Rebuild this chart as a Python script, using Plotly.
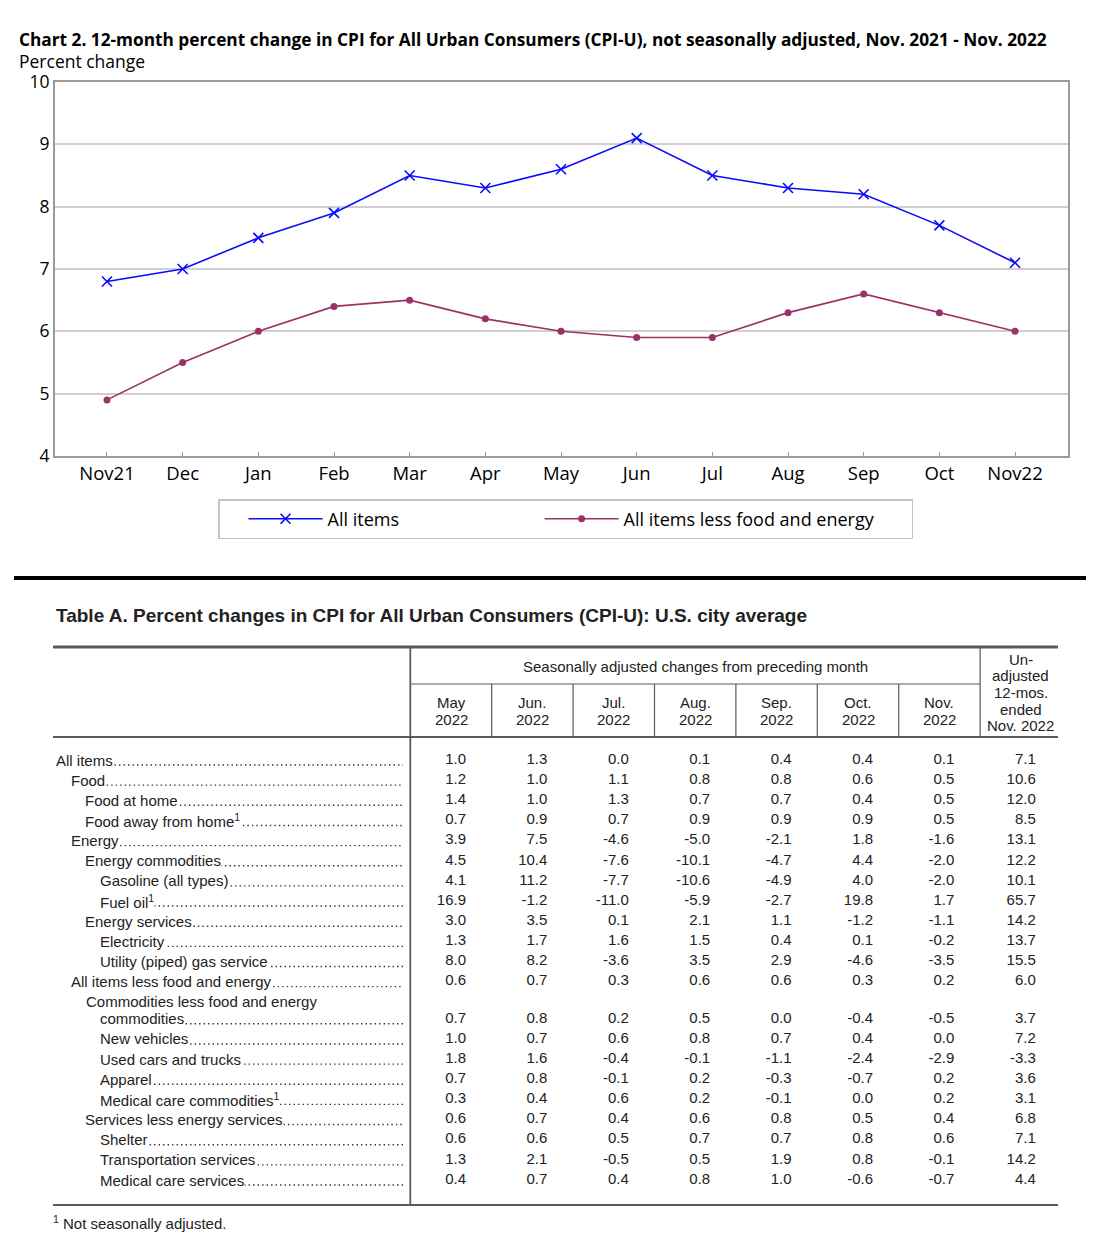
import plotly.graph_objects as go

# ---------------- Chart data ----------------
months = ["Nov21", "Dec", "Jan", "Feb", "Mar", "Apr", "May", "Jun", "Jul", "Aug", "Sep", "Oct", "Nov22"]
all_items = [6.8, 7.0, 7.5, 7.9, 8.5, 8.3, 8.6, 9.1, 8.5, 8.3, 8.2, 7.7, 7.1]
core_items = [4.9, 5.5, 6.0, 6.4, 6.5, 6.2, 6.0, 5.9, 5.9, 6.3, 6.6, 6.3, 6.0]
y_ticks = [4, 5, 6, 7, 8, 9, 10]

# ---------------- Table data ----------------
row_labels = [
    "All items", "Food", "Food at home", "Food away from home<sup>1</sup>", "Energy",
    "Energy commodities", "Gasoline (all types)", "Fuel oil<sup>1</sup>", "Energy services",
    "Electricity", "Utility (piped) gas service", "All items less food and energy",
    "Commodities less food and energy\ncommodities", "New vehicles", "Used cars and trucks",
    "Apparel", "Medical care commodities<sup>1</sup>", "Services less energy services",
    "Shelter", "Transportation services", "Medical care services",
]
row_indent = [0, 1, 2, 2, 1, 2, 3, 3, 2, 3, 3, 1, 2, 3, 3, 3, 3, 2, 3, 3, 3]

col_headers = [["May", "2022"], ["Jun.", "2022"], ["Jul.", "2022"], ["Aug.", "2022"], ["Sep.", "2022"],
               ["Oct.", "2022"], ["Nov.", "2022"], ["Un-", "adjusted", "12-mos.", "ended", "Nov. 2022"]]
group_header = "Seasonally adjusted changes from preceding month"

may_2022 = [1.0, 1.2, 1.4, 0.7, 3.9, 4.5, 4.1, 16.9, 3.0, 1.3, 8.0, 0.6, 0.7, 1.0, 1.8, 0.7, 0.3, 0.6, 0.6, 1.3, 0.4]
jun_2022 = [1.3, 1.0, 1.0, 0.9, 7.5, 10.4, 11.2, -1.2, 3.5, 1.7, 8.2, 0.7, 0.8, 0.7, 1.6, 0.8, 0.4, 0.7, 0.6, 2.1, 0.7]
jul_2022 = [0.0, 1.1, 1.3, 0.7, -4.6, -7.6, -7.7, -11.0, 0.1, 1.6, -3.6, 0.3, 0.2, 0.6, -0.4, -0.1, 0.6, 0.4, 0.5, -0.5, 0.4]
aug_2022 = [0.1, 0.8, 0.7, 0.9, -5.0, -10.1, -10.6, -5.9, 2.1, 1.5, 3.5, 0.6, 0.5, 0.8, -0.1, 0.2, 0.2, 0.6, 0.7, 0.5, 0.8]
sep_2022 = [0.4, 0.8, 0.7, 0.9, -2.1, -4.7, -4.9, -2.7, 1.1, 0.4, 2.9, 0.6, 0.0, 0.7, -1.1, -0.3, -0.1, 0.8, 0.7, 1.9, 1.0]
oct_2022 = [0.4, 0.6, 0.4, 0.9, 1.8, 4.4, 4.0, 19.8, -1.2, 0.1, -4.6, 0.3, -0.4, 0.4, -2.4, -0.7, 0.0, 0.5, 0.8, 0.8, -0.6]
nov_2022 = [0.1, 0.5, 0.5, 0.5, -1.6, -2.0, -2.0, 1.7, -1.1, -0.2, -3.5, 0.2, -0.5, 0.0, -2.9, 0.2, 0.2, 0.4, 0.6, -0.1, -0.7]
unadj_12m = [7.1, 10.6, 12.0, 8.5, 13.1, 12.2, 10.1, 65.7, 14.2, 13.7, 15.5, 6.0, 3.7, 7.2, -3.3, 3.6, 3.1, 6.8, 7.1, 14.2, 4.4]
table_columns = [may_2022, jun_2022, jul_2022, aug_2022, sep_2022, oct_2022, nov_2022, unadj_12m]

# ---------------- Layout constants ----------------
W, H = 1098, 1248
CHART_FONT = "Open Sans"
TABLE_FONT = "Liberation Sans"
TXT = "#222222"
BLUE = "#0a0aff"
MAROON = "#993366"
TFS = 15  # table font size

ROW0, ROW_H, EXTRA = 760, 20.15, 17
LABEL_X0, INDENT_W, LEADER_END = 55, 14.7, 403
COL_X0, COL_W = 451, 81.4
T_LEFT, T_RIGHT = 53, 1058
T_TOP, H_MID, H_BOT, T_BOT = 647, 684, 737, 1205
LINE_C = "#5a5a5a"
NBSP = "\u00a0"


def row_y(i):
    return ROW0 + i * ROW_H + (EXTRA if i >= 12 else 0)


def col_x(k):
    return COL_X0 + k * COL_W


fig = go.Figure()

# ---- line chart ----
fig.add_trace(go.Scatter(
    x=months, y=all_items, name="All items" + NBSP * 29, mode="lines+markers",
    line=dict(color=BLUE, width=1.6),
    marker=dict(symbol="x-thin", size=10, line=dict(color=BLUE, width=1.6)),
    xaxis="x", yaxis="y"))
fig.add_trace(go.Scatter(
    x=months, y=core_items, name="All items less food and energy" + NBSP * 7, mode="lines+markers",
    line=dict(color=MAROON, width=1.6),
    marker=dict(symbol="circle", size=7, color=MAROON),
    xaxis="x", yaxis="y"))

# ---- table: leader dots + labels ----
lx, ly = [], []
annotations = []
tfont = dict(family=TABLE_FONT, size=TFS, color=TXT)
for i, (lab, lev) in enumerate(zip(row_labels, row_indent)):
    y = row_y(i)
    if "\n" in lab:
        first, second = lab.split("\n")
        annotations.append(dict(x=LABEL_X0 + lev * INDENT_W, y=y - EXTRA, xref="x2", yref="y2",
                                text=first, showarrow=False, xanchor="left", yanchor="middle",
                                font=tfont))
        lab, lev = second, lev + 1
    x0 = LABEL_X0 + lev * INDENT_W
    annotations.append(dict(x=x0, y=y, xref="x2", yref="y2", text=lab, showarrow=False,
                            xanchor="left", yanchor="middle", bgcolor="white", borderpad=0,
                            font=tfont))
    lx += [x0 + 10, LEADER_END, None]
    ly += [y + 5, y + 5, None]

fig.add_trace(go.Scatter(x=lx, y=ly, mode="lines",
                         line=dict(color="#333", width=1.4, dash="1.4px,3.1px"),
                         showlegend=False, hoverinfo="skip", xaxis="x2", yaxis="y2"))

# ---- table: numbers ----
for k, col in enumerate(table_columns):
    fig.add_trace(go.Scatter(
        x=[col_x(k) + 15] * len(col), y=[row_y(i) for i in range(len(col))],
        text=[f"{v:.1f}" for v in col], mode="text", textposition="middle left",
        textfont=tfont, showlegend=False, hoverinfo="skip", xaxis="x2", yaxis="y2"))

# ---- table headers ----
for k, lines in enumerate(col_headers):
    if k < 7:
        ys = [702 + j * 17 for j in range(len(lines))]
    else:
        ys = [659 + j * 16.7 for j in range(len(lines))]
    for line_txt, yy in zip(lines, ys):
        annotations.append(dict(x=col_x(k), y=yy, xref="x2", yref="y2", text=line_txt, showarrow=False,
                                xanchor="center", yanchor="middle", font=tfont))
annotations.append(dict(x=(col_x(0) + col_x(6)) / 2, y=666, xref="x2", yref="y2",
                        text=group_header, showarrow=False, xanchor="center", yanchor="middle",
                        font=tfont))

# ---- titles ----
annotations += [
    dict(x=17 / W, y=1 - 39 / H, xref="paper", yref="paper", xanchor="left", yanchor="middle",
         text="<b>Chart 2. 12-month percent change in CPI for All Urban Consumers (CPI-U), not seasonally adjusted, Nov. 2021 - Nov. 2022</b>",
         showarrow=False, font=dict(family=CHART_FONT, size=17.25, color="black")),
    dict(x=17 / W, y=1 - 61.5 / H, xref="paper", yref="paper", xanchor="left", yanchor="middle",
         text="Percent change", showarrow=False, font=dict(family=CHART_FONT, size=17.5, color="black")),
    dict(x=54 / W, y=1 - 615 / H, xref="paper", yref="paper", xanchor="left", yanchor="middle",
         text="<b>Table A. Percent changes in CPI for All Urban Consumers (CPI-U): U.S. city average</b>",
         showarrow=False, font=dict(family=TABLE_FONT, size=19, color=TXT)),
    dict(x=51 / W, y=1 - 1222 / H, xref="paper", yref="paper", xanchor="left", yanchor="middle",
         text="<sup>1</sup> Not seasonally adjusted.", showarrow=False, font=tfont),
]


# ---- shapes ----
def hline(y, x0, x1, w, c=LINE_C):
    return dict(type="line", xref="x2", yref="y2", x0=x0, x1=x1, y0=y, y1=y, line=dict(color=c, width=w))


def vline(x, y0, y1, w, c=LINE_C):
    return dict(type="line", xref="x2", yref="y2", x0=x, x1=x, y0=y0, y1=y1, line=dict(color=c, width=w))


shapes = [
    hline(578, 14, 1086, 4, "black"),
    hline(T_TOP, T_LEFT, T_RIGHT, 3),
    hline(H_MID, col_x(0) - COL_W / 2, col_x(7) - COL_W / 2, 1.2),
    hline(H_BOT, T_LEFT, T_RIGHT, 1.8),
    hline(T_BOT, T_LEFT, T_RIGHT, 2),
    vline(col_x(0) - COL_W / 2, T_TOP, T_BOT, 1.8),
    vline(col_x(7) - COL_W / 2, T_TOP, H_BOT, 1.2),
]
for k in range(1, 7):
    shapes.append(vline(col_x(k) - COL_W / 2, H_MID, H_BOT, 1.2))

fig.update_layout(
    width=W, height=H, margin=dict(l=0, r=0, t=0, b=0, autoexpand=False),
    paper_bgcolor="white", plot_bgcolor="rgba(0,0,0,0)",
    font=dict(family=CHART_FONT, size=16, color="black"),
    xaxis=dict(domain=[55 / W, 1068 / W], anchor="y", type="category", range=[-0.687, 12.7],
               showgrid=False, showline=True, mirror=True, linecolor="#9a9a9a", linewidth=1.8,
               ticks="inside", ticklen=4, tickcolor="#9a9a9a", automargin=False,
               tickfont=dict(size=18.5, family=CHART_FONT), fixedrange=True),
    yaxis=dict(domain=[1 - 456 / H, 1 - 82 / H], anchor="x", range=[4, 10], tickvals=y_ticks,
               showgrid=True, gridcolor="#cfcfcf", gridwidth=1.5, zeroline=False,
               showline=True, mirror=True, linecolor="#9a9a9a", linewidth=1.8, automargin=False,
               ticks="", tickfont=dict(size=17.5, family=CHART_FONT), fixedrange=True),
    xaxis2=dict(domain=[0, 1], anchor="y2", range=[0, W], visible=False, fixedrange=True, automargin=False),
    yaxis2=dict(domain=[0, 1], anchor="x2", range=[H, 0], visible=False, fixedrange=True, automargin=False),
    legend=dict(orientation="h", x=218 / W, y=1 - 499 / H, xanchor="left", yanchor="top",
                bordercolor="#c4c4c4", borderwidth=1.5, font=dict(size=18, family=CHART_FONT),
                itemwidth=74, bgcolor="white",
                title=dict(text=NBSP * 3, side="left", font=dict(size=18))),
    annotations=annotations, shapes=shapes,
)

fig.write_html("out.html", post_script="document.body.style.margin='0';",
               config={"displayModeBar": False})
